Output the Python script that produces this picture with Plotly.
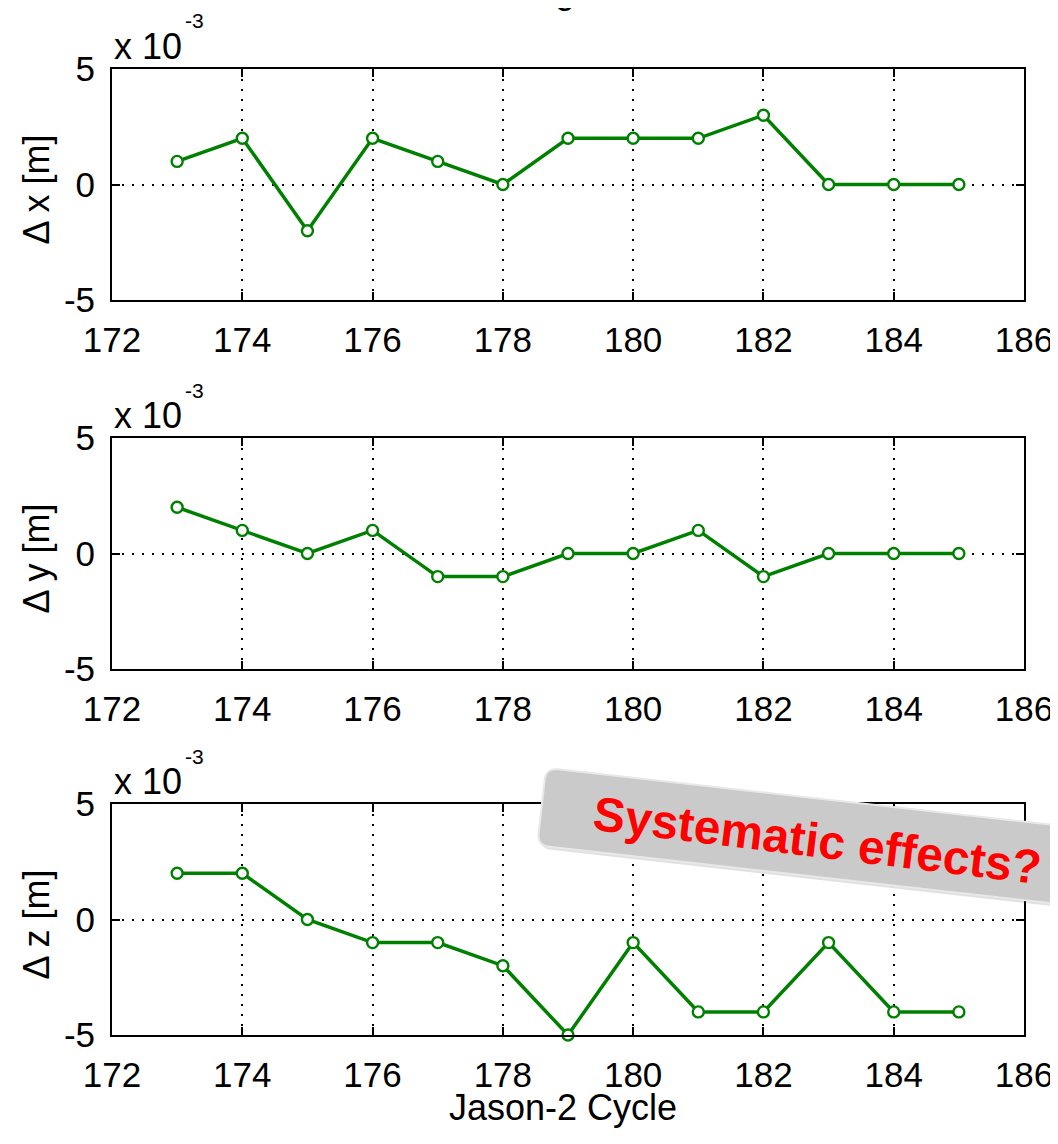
import math
import plotly.graph_objects as go

# ---------------- data ----------------
cycles = [173, 174, 175, 176, 177, 178, 179, 180, 181, 182, 183, 184, 185]
dx = [1, 2, -2, 2, 1, 0, 2, 2, 2, 3, 0, 0, 0]
dy = [2, 1, 0, 1, -1, -1, 0, 0, 1, -1, 0, 0, 0]
dz = [2, 2, 0, -1, -1, -2, -5, -1, -4, -4, -1, -4, -4]
series = [dx, dy, dz]
ylabels = ["Δ x [m]", "Δ y [m]", "Δ z [m]"]
xticks = [172, 174, 176, 178, 180, 182, 184, 186]
yticks = [-5, 0, 5]
xlabel = "Jason-2 Cycle"
note = "Systematic effects?"

# ---------------- geometry (screen pixels; page body offset compensated) ----------------
OFF = 8
W, H = 1058 - OFF, 1144 - OFF
L, R, T, B = 112, 1024, 69, 1035          # screen coords of plot area
PW, PH = R - L, B - T
panels = [(69, 300), (438, 669), (804, 1035)]


def px(X):
    return (X - L) / PW


def py(Y):
    return 1 - (Y - T) / PH


GREEN = "rgb(0,128,0)"
FONT = "Liberation Sans"

fig = go.Figure()
for i, ys in enumerate(series):
    n = "" if i == 0 else str(i + 1)
    fig.add_trace(go.Scatter(
        x=cycles, y=ys, xaxis="x" + n, yaxis="y" + n,
        mode="lines+markers", cliponaxis=False,
        line=dict(color=GREEN, width=3.5),
        marker=dict(symbol="circle", size=11, color="white",
                    line=dict(color=GREEN, width=2.4)),
        showlegend=False,
    ))

axcommon = dict(
    showline=True, linecolor="black", linewidth=2, mirror="ticks",
    ticks="inside", ticklen=8, tickwidth=1.5, tickcolor="black",
    showgrid=True, gridcolor="black", gridwidth=1.5, griddash="2px,8px",
    zeroline=False, automargin=False,
    tickfont=dict(family=FONT, size=35, color="black"),
)
layout = dict(
    width=W, height=H, paper_bgcolor="white", plot_bgcolor="white",
    margin=dict(l=L - OFF, r=(W + OFF) - R, t=T - OFF, b=(H + OFF) - B, autoexpand=False),
    font=dict(family=FONT, color="black"),
)
for i, (top, bot) in enumerate(panels):
    n = "" if i == 0 else str(i + 1)
    layout["xaxis" + n] = dict(
        axcommon, domain=[0, 1], anchor="y" + n, range=[172, 186],
        tickvals=xticks, ticktext=[str(v) for v in xticks],
        ticklabelstandoff=8,
    )
    layout["yaxis" + n] = dict(
        axcommon, domain=[py(bot), py(top)], anchor="x" + n, range=[-5, 5],
        tickvals=yticks, ticktext=[str(v) for v in yticks],
        ticklabelstandoff=8,
    )
fig.update_layout(**layout)

ann = []
for i, (top, bot) in enumerate(panels):
    ann.append(dict(xref="paper", yref="paper", x=px(112), y=py(top - 23),
                    xanchor="left", yanchor="middle", showarrow=False,
                    text="x 10", font=dict(family=FONT, size=36, color="black")))
    ann.append(dict(xref="paper", yref="paper", x=px(183), y=py(top - 48),
                    xanchor="left", yanchor="middle", showarrow=False,
                    text="-3", font=dict(family=FONT, size=21, color="black")))
    ann.append(dict(xref="paper", yref="paper", x=px(36), y=py((top + bot) / 2 + 5),
                    xanchor="center", yanchor="middle", showarrow=False,
                    textangle=-90, text=ylabels[i],
                    font=dict(family=FONT, size=36, color="black")))

ann.append(dict(xref="paper", yref="paper", x=px(563), y=py(1107),
                xanchor="center", yanchor="middle", showarrow=False,
                text=xlabel, font=dict(family=FONT, size=36, color="black")))
# clipped title fragment at top
ann.append(dict(xref="paper", yref="paper", x=px(565), y=py(-10),
                xanchor="center", yanchor="middle", showarrow=False,
                text="g", font=dict(family=FONT, size=36, color="black")))
# rotated note
ann.append(dict(xref="paper", yref="paper", x=px(817), y=py(840),
                xanchor="center", yanchor="middle", showarrow=False,
                textangle=7, text="<b>" + note + "</b>",
                font=dict(family=FONT, size=48, color="rgb(255,0,0)")))


def rounded_box(P0, width, height, angle_deg, r, dxs=0, dys=0):
    th = math.radians(angle_deg)
    ux, uy = math.cos(th), math.sin(th)
    nx, ny = -math.sin(th), math.cos(th)
    A = (P0[0] + dxs, P0[1] + dys)
    Bp = (A[0] + width * ux, A[1] + width * uy)
    C = (Bp[0] + height * nx, Bp[1] + height * ny)
    D = (A[0] + height * nx, A[1] + height * ny)

    def add(P, vx, vy, s):
        return (P[0] + s * vx, P[1] + s * vy)

    def f(P):
        return f"{px(P[0]):.5f},{py(P[1]):.5f}"

    pts = [
        ("M", add(A, ux, uy, r)), ("L", add(Bp, ux, uy, -r)),
        ("Q", Bp, add(Bp, nx, ny, r)), ("L", add(C, nx, ny, -r)),
        ("Q", C, add(C, ux, uy, -r)), ("L", add(D, ux, uy, r)),
        ("Q", D, add(D, nx, ny, -r)), ("L", add(A, nx, ny, r)),
        ("Q", A, add(A, ux, uy, r)),
    ]
    s = ""
    for p in pts:
        if p[0] == "Q":
            s += f" Q{f(p[1])} {f(p[2])}"
        else:
            s += f" {p[0]}{f(p[1])}"
    return s + " Z"


shapes = [
    dict(type="path", xref="paper", yref="paper", layer="above",
         path=rounded_box((546, 768), 650, 78, 6.4, 12, 2, 3),
         fillcolor="rgba(0,0,0,0.12)", line=dict(width=0)),
    dict(type="path", xref="paper", yref="paper", layer="above",
         path=rounded_box((546, 768), 650, 78, 6.4, 12),
         fillcolor="rgb(202,202,202)", line=dict(color="rgb(232,232,232)", width=2)),
]
fig.update_layout(annotations=ann, shapes=shapes)
fig.write_html("out.html")
